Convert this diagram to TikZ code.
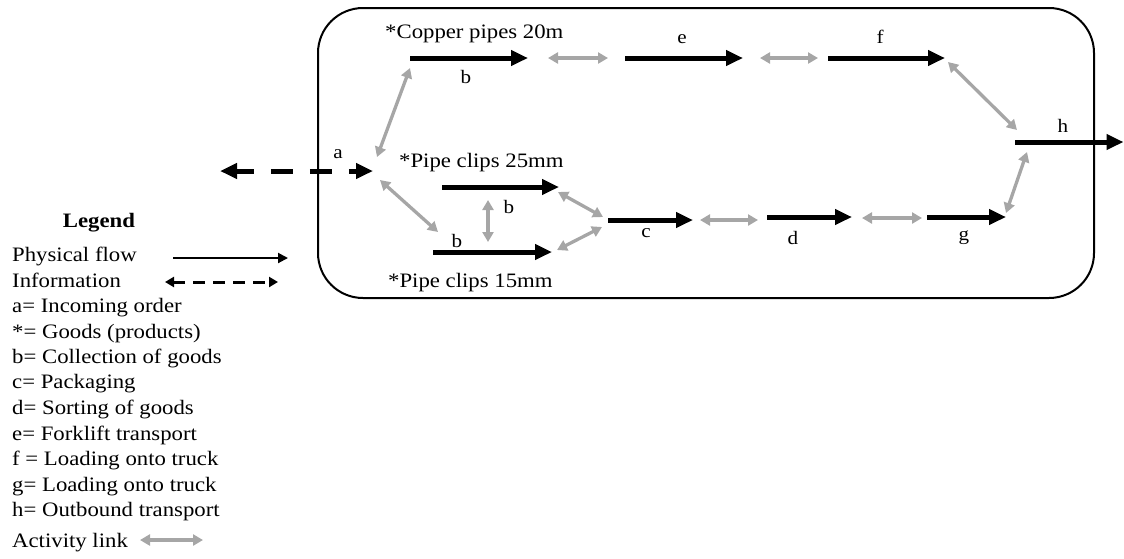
\documentclass[tikz,border=0pt]{standalone}
\usepackage{fontspec}
\setmainfont{Liberation Serif}[FakeStretch=1.11]
\usetikzlibrary{arrows.meta}
\definecolor{linkgray}{HTML}{A6A6A6}
\tikzset{
  flow/.style={line width=5pt,-{Triangle[length=17pt,width=15pt]}},
  info/.style={line width=5pt,{Triangle[length=17pt,width=15pt]}-{Triangle[length=17pt,width=15pt]},dash pattern=on 22pt off 17pt,dash phase=4pt},
  link/.style={linkgray,line width=3.3pt,{Triangle[length=10pt,width=11pt]}-{Triangle[length=10pt,width=11pt]}},
  lflow/.style={line width=2pt,-{Triangle[length=10pt,width=10pt]}},
  linfo/.style={line width=3pt,{Triangle[length=9pt,width=10pt]}-{Triangle[length=9pt,width=10pt]},dash pattern=on 12pt off 8pt},
  txt/.style={inner sep=0pt,anchor=base west,font=\fontsize{20.5}{25}\selectfont},
  lbl/.style={inner sep=0pt,anchor=base,font=\fontsize{19}{23}\selectfont},
}
\begin{document}
\begin{tikzpicture}[x=1pt,y=-1pt]
\useasboundingbox (0,0) rectangle (1124,558);
% enclosing box
\draw[line width=2pt,rounded corners=45pt] (318,8) rectangle (1094,298);
% information flow
\draw[info] (220,171) -- (373,171);
\node[lbl] (la) at (338,158) {a};
% top branch
\node[txt] (cop) at (385,38) {*Copper pipes 20m};
\draw[flow] (410,58) -- (528,58);
\node[lbl] (lb1) at (466,83) {b};
\draw[link] (548,58) -- (608,58);
\draw[flow] (625,58) -- (743,58);
\node[lbl] (le) at (682,43) {e};
\draw[link] (760,58) -- (818,58);
\draw[flow] (828,58) -- (945,58);
\node[lbl] (lf) at (880,43) {f};
\draw[link] (377,157) -- (410,68);
% pipe clips
\node[txt] (p25) at (399,167) {*Pipe clips 25mm};
\draw[flow] (442,187) -- (559,187);
\draw[link] (380,180) -- (438,232);
\draw[link] (488,200) -- (488,242);
\node[lbl] (lb2) at (509,213) {b};
\node[lbl] (lb3) at (457,247) {b};
\draw[flow] (433,252) -- (552,252);
\node[txt] (p15) at (388,287) {*Pipe clips 15mm};
\draw[link] (558,192) -- (603,217);
\draw[link] (557,250) -- (602,227);
% bottom branch
\draw[flow] (608,220) -- (693,220);
\node[lbl] (lc) at (646,237) {c};
\draw[link] (700,220) -- (758,220);
\draw[flow] (767,217) -- (852,217);
\node[lbl] (ld) at (793,244) {d};
\draw[link] (862,218) -- (922,218);
\draw[flow] (927,217) -- (1006,217);
\node[lbl] (lg) at (964,240) {g};
\draw[link] (1006,213) -- (1027,152);
\draw[link] (948,62) -- (1017,130);
% outbound
\draw[flow] (1015,142) -- (1123.5,142);
\node[lbl] (lh) at (1063,132) {h};
% legend
\node[inner sep=0pt,anchor=base,font=\fontsize{20.5}{25}\selectfont\bfseries] (leg) at (99,227) {Legend};
\node[txt] (t1) at (12,261) {Physical flow};
\draw[lflow] (173,258) -- (288,258);
\node[txt] (t2) at (12,287) {Information};
\draw[linfo] (165,282) -- (278,282);
\node[txt] (t3) at (12,312) {a= Incoming order};
\node[txt] (t4) at (12,338) {*= Goods (products)};
\node[txt] (t5) at (12,363) {b= Collection of goods};
\node[txt] (t6) at (12,388) {c= Packaging};
\node[txt] (t7) at (12,414) {d= Sorting of goods};
\node[txt] (t8) at (12,440) {e= Forklift transport};
\node[txt] (t9) at (12,465) {f = Loading onto truck};
\node[txt] (t10) at (12,491) {g= Loading onto truck};
\node[txt] (t11) at (12,516) {h= Outbound transport};
\node[txt] (t12) at (12,547) {Activity link};
\draw[link] (140,540) -- (203,540);
\end{tikzpicture}
\end{document}
